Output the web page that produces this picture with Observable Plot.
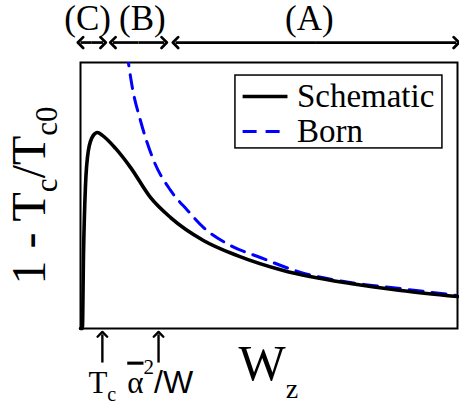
<!DOCTYPE html>
<html>
<head>
<meta charset="utf-8">
<script src="https://cdn.jsdelivr.net/npm/d3@7"></script>
<script src="https://cdn.jsdelivr.net/npm/@observablehq/plot@0.6"></script>
<style>
  html, body { margin: 0; padding: 0; background: #fff; }
  #chart svg { display: block; }
</style>
</head>
<body>
<div id="chart"></div>
<script>
// ---- data (W_z in arbitrary units 0..100, 1 - Tc/Tc0 in arbitrary units 0..100) ----
const schematicW = [0, 0.5, 0.8, 1.3, 2.1, 3.4, 4.5, 5.8, 9.3, 13.3, 18.6, 23.9, 32.6, 41.6, 53.8, 71.6, 84.9, 100];
const schematicV = [0, 0, 28, 53, 67, 72.6, 73.7, 72.6, 67.7, 60.5, 49.2, 41.7, 33.1, 27.4, 21.8, 16.9, 14.3, 12.0];
const bornW = [12.3, 12.7, 13.8, 15.9, 19.4, 23.9, 28.4, 32.6, 39.8, 47.7, 58.4, 71.6, 84.9, 100];
const bornV = [104, 100, 90.2, 78.2, 63.2, 51.9, 44.4, 38.0, 31.2, 26.7, 21.1, 17.3, 15.0, 12.4];

const legendLabels = ["Schematic", "Born"];
const regionLabels = ["(C)", "(B)", "(A)"];
const regionFrom = [0, 8.6, 25.2];
const regionTo = [6.0, 22.2, 99.7];
const regionLabelW = [1.9, 16.4, 60.7];
const markerLabels = ["T_{c}", "!{α}^{2}~{/W}"];
const markerW = [5.8, 20.7];
const markerLabelW = [2.1, 12.4];
const xLabel = "W_{z}";
const yLabel = "1 - T_{c}/T_{c0}";

const schematic = schematicW.map((w, i) => ({w, v: schematicV[i]}));
const born = bornW.map((w, i) => ({w, v: bornV[i]}));
const regions = regionLabels.map((label, i) => ({label, from: regionFrom[i], to: regionTo[i], mid: (regionFrom[i] + regionTo[i]) / 2, lx: regionLabelW[i]}));
const markers = markerLabels.map((label, i) => ({label, w: markerW[i], lx: markerLabelW[i]}));

const serif = "Liberation Serif";
const sans = "Liberation Sans";

const plot = Plot.plot({
  width: 459,
  height: 412,
  marginLeft: 80,
  marginRight: 2,
  marginTop: 62,
  marginBottom: 84,
  x: {domain: [0, 100], axis: null},
  y: {domain: [0, 100], axis: null},
  style: {background: "#fff", color: "#000", overflow: "visible"},
  marks: [
    Plot.frame({stroke: "#000", strokeWidth: 2}),
    Plot.line(born, {x: "w", y: "v", stroke: "#0000ff", strokeWidth: 3, strokeDasharray: "14,9", curve: "monotone-x", clip: true}),
    Plot.line(schematic, {x: "w", y: "v", stroke: "#000", strokeWidth: 3.6, curve: "monotone-x"}),
    // legend
    Plot.rect([0], {x1: () => 41.1, x2: () => 96.0, y1: () => 67.7, y2: () => 95.1, fill: "#fff", stroke: "#000", strokeWidth: 1.5}),
    Plot.link([0], {x1: () => 43.0, x2: () => 54.9, y1: () => 87.2, y2: () => 87.2, stroke: "#000", strokeWidth: 3.6}),
    Plot.link([0], {x1: () => 43.0, x2: () => 54.9, y1: () => 74.1, y2: () => 74.1, stroke: "#0000ff", strokeWidth: 3, strokeDasharray: "14,9"}),
    Plot.text(legendLabels, {x: () => 57.4, y: (d, i) => i === 0 ? 87.2 : 74.1, text: d => d, textAnchor: "start", fontSize: 33, fontFamily: serif, fill: "#000"}),
    // regions on top (double-headed arrows)
    Plot.link(regions, {x1: "mid", x2: "to", y1: () => 107.5, y2: () => 107.5, stroke: "#000", strokeWidth: 2.7, markerEnd: "arrow"}),
    Plot.link(regions, {x1: "mid", x2: "from", y1: () => 107.5, y2: () => 107.5, stroke: "#000", strokeWidth: 2.7, markerEnd: "arrow"}),
    Plot.text(regions, {x: "lx", y: () => 112.4, text: "label", lineAnchor: "bottom", fontSize: 35, fontFamily: serif, fill: "#000"}),
    // markers at bottom
    Plot.link(markers, {x1: "w", x2: "w", y1: () => -12.8, y2: () => -2.2, stroke: "#000", strokeWidth: 2.4, markerEnd: "arrow"}),
    Plot.text(markers, {x: "lx", y: () => -24.1, text: "label", textAnchor: "start", lineAnchor: "bottom", fontSize: 31, fontFamily: serif, fill: "#000"}),
    // axis labels
    Plot.text([xLabel], {x: () => 41.9, y: () => -19.5, text: d => d, textAnchor: "start", lineAnchor: "bottom", fontSize: 50, fontFamily: serif, fill: "#000"}),
    Plot.text([yLabel], {x: () => -9.5, y: () => 50, text: d => d, rotate: -90, textAnchor: "middle", lineAnchor: "bottom", fontSize: 48, fontFamily: serif, fill: "#000"})
  ]
});

// rich text: _{sub}, ^{sup}, ~{sans}, !{overline}
function rich(el, o) {
  const s = el.text();
  const re = /([_^~!])\{([^}]*)\}/g;
  const segs = [];
  let last = 0, m;
  while ((m = re.exec(s))) {
    if (m.index > last) segs.push({t: s.slice(last, m.index), k: ""});
    segs.push({t: m[2], k: m[1]});
    last = re.lastIndex;
  }
  if (last < s.length) segs.push({t: s.slice(last), k: ""});
  el.text("");
  let off = 0;
  for (const g of segs) {
    const target = g.k === "_" ? o.subShift : g.k === "^" ? -o.supShift : 0;
    const ts = el.append("tspan").text(g.t);
    if (target !== off) ts.attr("dy", target - off);
    off = target;
    if (g.k === "_") ts.attr("font-size", o.subSize);
    if (g.k === "^") ts.attr("font-size", o.supSize);
    if (g.k === "~") ts.attr("font-family", sans).attr("font-size", o.sansSize);
    if (g.k === "!") ts.style("text-decoration", "overline");
  }
}
const richOpts = new Map([
  [xLabel, {subSize: 28, subShift: 18}],
  [yLabel, {subSize: 31, subShift: 12}],
  [markerLabels[0], {subSize: 20, subShift: 8}],
  [markerLabels[1], {supSize: 21, supShift: 19, sansSize: 32}]
]);
d3.select(plot).selectAll("text").each(function() {
  const el = d3.select(this);
  const o = richOpts.get(el.text());
  if (o) rich(el, o);
});

document.getElementById("chart").appendChild(plot);
</script>
</body>
</html>
